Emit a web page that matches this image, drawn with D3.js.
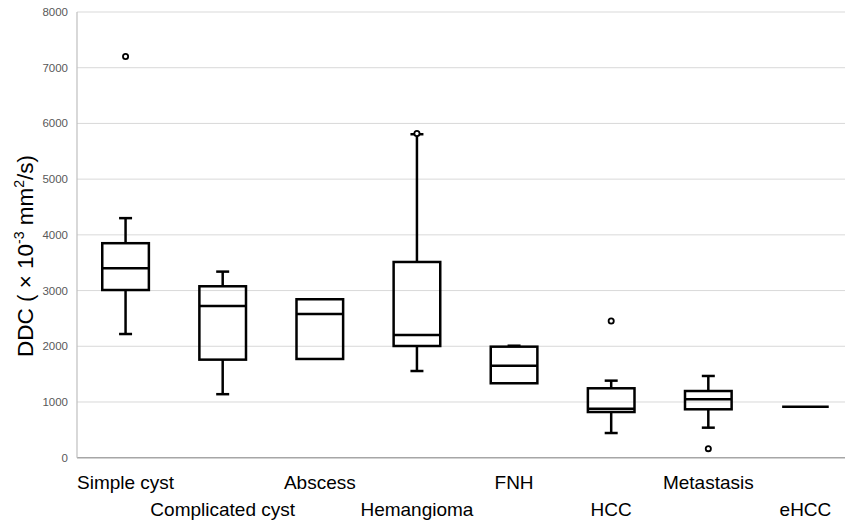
<!DOCTYPE html>
<html>
<head>
<meta charset="utf-8">
<script src="https://cdn.jsdelivr.net/npm/d3@7"></script>
<style>
  html, body { margin: 0; padding: 0; background: #fff; }
  svg { display: block; font-family: "Liberation Sans", Arial, sans-serif; }
</style>
</head>
<body>
<svg id="chart" width="845" height="523"></svg>
<script>
const categories = ["Simple cyst", "Complicated cyst", "Abscess", "Hemangioma", "FNH", "HCC", "Metastasis", "eHCC"];
const whiskerLow  = [2220, 1140, 1772, 1556, 1336,  443,  539,  916];
const q1          = [3010, 1760, 1772, 2005, 1336,  820,  869,  916];
const median      = [3400, 2723, 2580, 2203, 1652,  880, 1048,  916];
const q3          = [3850, 3077, 2844, 3513, 1993, 1246, 1197,  916];
const whiskerHigh = [4300, 3340, 2844, 5806, 2010, 1383, 1467,  916];
const outliers    = [[7200], [], [], [5820], [], [2454], [162], []];
const yTicks = [0, 1000, 2000, 3000, 4000, 5000, 6000, 7000, 8000];

const boxes = categories.map((c, i) => ({
  name: c, i,
  lo: whiskerLow[i], q1: q1[i], med: median[i], q3: q3[i], hi: whiskerHigh[i],
  out: outliers[i]
}));

const svg = d3.select("#chart");
const mLeft = 77, mRight = 854, mTop = 12, mBottom = 457.7;

// last band runs a little past the right edge of the picture
const x = d3.scaleBand().domain(categories).range([mLeft, mRight]).padding(0);
const y = d3.scaleLinear().domain([0, 8000]).range([mBottom, mTop]);

// gridlines
svg.append("g")
  .selectAll("line")
  .data(yTicks.filter(t => t > 0))
  .join("line")
  .attr("x1", mLeft).attr("x2", 845)
  .attr("y1", d => y(d)).attr("y2", d => y(d))
  .attr("stroke", "#d9d9d9").attr("stroke-width", 1);

// axes lines
svg.append("line").attr("x1", mLeft).attr("x2", 845).attr("y1", mBottom).attr("y2", mBottom)
  .attr("stroke", "#a6a6a6").attr("stroke-width", 1.5);
svg.append("line").attr("x1", mLeft).attr("x2", mLeft).attr("y1", mTop).attr("y2", mBottom)
  .attr("stroke", "#bfbfbf").attr("stroke-width", 1.2);

// y tick labels
svg.append("g")
  .selectAll("text")
  .data(yTicks)
  .join("text")
  .attr("x", 68)
  .attr("y", d => y(d) + 4)
  .attr("text-anchor", "end")
  .attr("font-size", 11.5)
  .attr("fill", "#595959")
  .text(d => d);

// y title
const title = svg.append("text")
  .attr("transform", "translate(33,256) rotate(-90)")
  .attr("text-anchor", "middle")
  .attr("font-size", 22.5)
  .attr("fill", "#000");
title.append("tspan").text("DDC ( × 10");
title.append("tspan").attr("font-size", 14).attr("dy", -9).text("-3");
title.append("tspan").attr("dy", 9).text(" mm");
title.append("tspan").attr("font-size", 14).attr("dy", -9).text("2");
title.append("tspan").attr("dy", 9).text("/s)");

// boxes
const bw = x.bandwidth() * 0.48;
const capW = 13;
const g = svg.append("g").attr("fill", "none").attr("stroke", "#000").attr("stroke-width", 2.5);

const bx = g.selectAll("g.box").data(boxes).join("g")
  .attr("transform", d => `translate(${x(d.name) + x.bandwidth() / 2},0)`);

bx.filter(d => d.hi > d.q3).append("line")
  .attr("y1", d => y(d.q3)).attr("y2", d => y(d.hi));
bx.filter(d => d.hi > d.q3).append("line")
  .attr("x1", -capW / 2).attr("x2", capW / 2)
  .attr("y1", d => y(d.hi)).attr("y2", d => y(d.hi));
bx.filter(d => d.lo < d.q1).append("line")
  .attr("y1", d => y(d.q1)).attr("y2", d => y(d.lo));
bx.filter(d => d.lo < d.q1).append("line")
  .attr("x1", -capW / 2).attr("x2", capW / 2)
  .attr("y1", d => y(d.lo)).attr("y2", d => y(d.lo));
bx.filter(d => d.q3 > d.q1).append("rect")
  .attr("x", -bw / 2).attr("width", bw)
  .attr("y", d => y(d.q3)).attr("height", d => y(d.q1) - y(d.q3));
bx.append("line")
  .attr("x1", -bw / 2).attr("x2", bw / 2)
  .attr("y1", d => y(d.med)).attr("y2", d => y(d.med));

bx.selectAll("circle").data(d => d.out).join("circle")
  .attr("cx", 0).attr("cy", d => y(d)).attr("r", 2.6)
  .attr("fill", "#fff").attr("stroke-width", 1.8);

// category labels, alternating rows
svg.append("g")
  .selectAll("text")
  .data(categories)
  .join("text")
  .attr("x", d => x(d) + x.bandwidth() / 2)
  .attr("y", (d, i) => i % 2 === 0 ? 489 : 516)
  .attr("text-anchor", "middle")
  .attr("font-size", 19)
  .attr("fill", "#000")
  .text(d => d);
</script>
</body>
</html>
